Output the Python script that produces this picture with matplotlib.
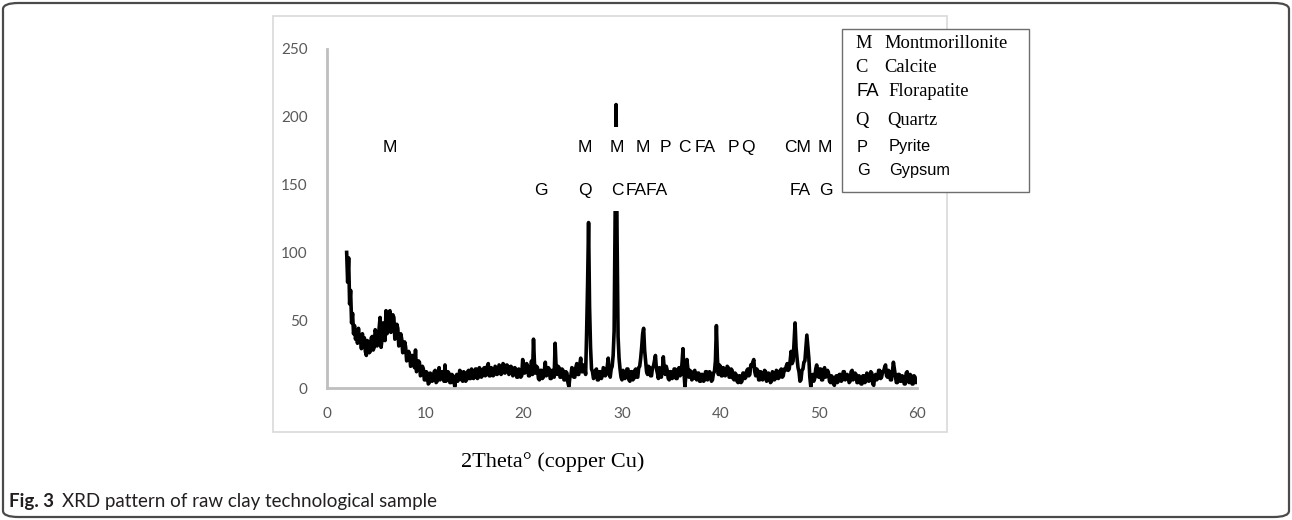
import numpy as np
import matplotlib
matplotlib.use("Agg")
import matplotlib.pyplot as plt
from matplotlib.patches import Rectangle, FancyBboxPatch

# XRD scan, 2theta from 2 to 60 deg in 0.1 deg steps
two_theta = np.round(np.arange(2.0, 60.001, 0.1), 1)

counts_02_12 = [100, 78, 96, 62, 72, 48, 55, 40, 46, 36,
                41, 33, 44, 35, 38, 29, 40, 31, 37, 27,
                24, 35, 33, 26, 27, 37, 38, 28, 30, 43,
                40, 31, 33, 44, 52, 30, 36, 48, 45, 35,
                57, 40, 42, 55, 57, 41, 44, 54, 52, 36,
                38, 47, 44, 31, 33, 40, 36, 26, 27, 34,
                30, 20, 21, 27, 25, 16, 17, 24, 21, 15,
                28, 12, 14, 20, 19, 9, 10, 16, 14, 6,
                6, 12, 11, 3, 4, 11, 10, 5, 6, 12,
                13, 4, 5, 10, 15, 6, 7, 12, 10, 5]
counts_12_22 = [17, 5, 6, 12, 11, 4, 4, 10, 9, 5,
                1, 8, 10, 5, 7, 13, 12, 6, 5, 12,
                11, 5, 6, 12, 13, 7, 7, 14, 12, 7,
                8, 14, 14, 7, 8, 15, 13, 8, 9, 14,
                15, 9, 10, 16, 18, 9, 9, 15, 14, 9,
                10, 16, 15, 10, 11, 17, 16, 10, 11, 18,
                17, 11, 12, 17, 16, 10, 11, 16, 15, 9,
                10, 15, 14, 8, 8, 14, 13, 8, 9, 21,
                17, 11, 12, 18, 16, 9, 9, 14, 20, 10,
                36, 18, 11, 16, 15, 7, 6, 13, 13, 7]
counts_22_32 = [8, 13, 19, 9, 10, 15, 14, 7, 7, 13,
                12, 8, 33, 15, 10, 16, 15, 8, 8, 14,
                13, 6, 6, 12, 11, 4, 1, 8, 9, 15,
                14, 8, 8, 15, 18, 10, 10, 17, 22, 12,
                12, 17, 16, 10, 40, 76, 122, 60, 30, 14,
                12, 7, 8, 13, 14, 6, 6, 12, 12, 7,
                9, 15, 14, 9, 10, 16, 22, 11, 8, 14,
                16, 24, 42, 130, 209, 110, 38, 22, 14, 8,
                6, 13, 12, 7, 8, 14, 14, 6, 5, 12,
                12, 6, 7, 13, 14, 8, 8, 15, 16, 22]
counts_32_42 = [30, 40, 44, 28, 20, 12, 10, 16, 15, 9,
                9, 15, 16, 20, 24, 14, 11, 7, 15, 9,
                8, 13, 23, 14, 10, 16, 13, 7, 6, 12,
                12, 7, 8, 14, 14, 7, 7, 13, 15, 9,
                10, 18, 29, 12, 1, 10, 21, 14, 8, 13,
                12, 6, 7, 12, 13, 7, 6, 11, 11, 5,
                5, 10, 10, 5, 6, 12, 12, 6, 7, 12,
                11, 5, 6, 11, 12, 20, 46, 22, 10, 17,
                16, 9, 9, 15, 14, 9, 10, 16, 15, 8,
                8, 14, 13, 7, 6, 11, 10, 5, 4, 9]
counts_42_52 = [9, 4, 5, 11, 11, 7, 8, 13, 14, 9,
                10, 17, 16, 19, 21, 12, 9, 14, 13, 6,
                6, 12, 11, 6, 7, 13, 12, 5, 6, 11,
                10, 4, 5, 12, 11, 6, 7, 13, 12, 7,
                8, 13, 14, 8, 9, 14, 13, 16, 18, 13,
                14, 20, 27, 18, 20, 34, 48, 30, 22, 15,
                12, 5, 6, 13, 14, 19, 20, 30, 39, 30,
                22, 8, 1, 9, 10, 5, 7, 14, 17, 9,
                8, 14, 14, 6, 6, 13, 15, 8, 9, 13,
                11, 5, 4, 9, 8, 3, 2, 8, 9, 4]
counts_52_60 = [5, 10, 10, 5, 6, 12, 12, 6, 7, 10,
                9, 4, 5, 12, 13, 6, 7, 11, 10, 4,
                4, 9, 8, 3, 3, 9, 9, 4, 5, 11,
                10, 5, 6, 12, 11, 3, 2, 9, 10, 6,
                7, 13, 13, 7, 8, 12, 12, 15, 17, 9,
                8, 13, 12, 6, 6, 12, 19, 14, 9, 4,
                4, 10, 10, 5, 5, 9, 8, 3, 3, 11,
                12, 5, 4, 10, 9, 3, 3, 9, 8, 4,
                5]
counts = np.array(counts_02_12 + counts_12_22 + counts_22_32 + counts_32_42
                  + counts_42_52 + counts_52_60)

# phase labels: (text, 2theta position)
top_labels = [("M", 6.4), ("M", 26.2), ("M", 29.5), ("M", 32.1), ("P", 34.4),
              ("C", 36.3), ("FA", 38.5), ("P", 41.3), ("Q", 42.8), ("CM", 47.9),
              ("M", 50.6)]
low_labels = [("G", 21.7), ("Q", 26.2), ("C", 29.5), ("FAFA", 32.5),
              ("FA", 48.1), ("G", 50.7)]
top_row_y = 177
low_row_y = 146

legend_codes = ["M", "C", "FA", "Q", "P", "G"]
legend_names = ["Montmorillonite", "Calcite", "Florapatite", "Quartz", "Pyrite", "Gypsum"]

x_ticks = [0, 10, 20, 30, 40, 50, 60]
y_ticks = [0, 50, 100, 150, 200, 250]

W, H = 1292, 520
fig = plt.figure(figsize=(W / 100, H / 100), dpi=100)


def fx(px):
    return px / W


def fy(py):
    return 1 - py / H


# outer rounded border of the figure panel
fig.add_artist(FancyBboxPatch((fx(3), fy(517)), fx(1286), 514 / H,
                              boxstyle="round,pad=0,rounding_size=0.012",
                              transform=fig.transFigure, fc="none",
                              ec="#4a4a4a", lw=1.6))
# light chart-area frame
fig.add_artist(Rectangle((fx(273), fy(432)), fx(947 - 273), (432 - 16) / H,
                         transform=fig.transFigure, fc="none", ec="#d9d9d9", lw=1.2))

ax = fig.add_axes([fx(327), fy(388), fx(917 - 327), (388 - 49) / H])
ax.plot(two_theta, counts, color="black", lw=2.6, zorder=2)
ax.set_xlim(0, 60)
ax.set_ylim(0, 250)
ax.set_xticks(x_ticks)
ax.set_yticks(y_ticks)
ax.tick_params(length=0, labelsize=11, labelcolor="#595959", pad=14)
for lab in ax.get_xticklabels() + ax.get_yticklabels():
    lab.set_family("Lato")
for side in ["top", "right"]:
    ax.spines[side].set_visible(False)
for side in ["left", "bottom"]:
    ax.spines[side].set_color("#bfbfbf")
    ax.spines[side].set_linewidth(2)

lab_font = dict(family="Liberation Sans", fontsize=12.5, ha="center", va="center")
for row_y, labels in [(top_row_y, top_labels), (low_row_y, low_labels)]:
    for txt, xpos in labels:
        if xpos == 29.5:
            # the calcite labels sit on white boxes that hide part of the peak
            ax.text(xpos, row_y, txt, zorder=2.5,
                    bbox=dict(fc="white", ec="none", pad=10), **lab_font)
        else:
            ax.text(xpos, row_y, txt, zorder=3, **lab_font)

# legend box
fig.add_artist(Rectangle((fx(842), fy(192)), fx(1029 - 842), (192 - 29) / H,
                         transform=fig.transFigure, fc="white", ec="#6e6e6e",
                         lw=1.0, zorder=5))
leg_y = [43, 68, 92, 120, 147, 171]
for i, (code, name) in enumerate(zip(legend_codes, legend_names)):
    if code in ("P", "G"):
        fam_code, fam_name, size = "Liberation Sans", "Liberation Sans", 11.8
        xc, xn = 857, 889
    elif code == "FA":
        fam_code, fam_name, size = "Liberation Sans", "Liberation Serif", 13.3
        xc, xn = 856, 888
    else:
        fam_code, fam_name, size = "Liberation Serif", "Liberation Serif", 13.3
        xc, xn = 855, 884 if code != "Q" else 887
    fig.text(fx(xc), fy(leg_y[i]), code, family=fam_code, fontsize=size,
             va="center", ha="left", zorder=6)
    fig.text(fx(xn), fy(leg_y[i]), name, family=fam_name, fontsize=size,
             va="center", ha="left", zorder=6)

fig.text(fx(553), fy(462), "2Theta\u00b0 (copper Cu)", family="Liberation Serif",
         fontsize=16, ha="center", va="center")

fig.text(fx(9), fy(501), "Fig. 3", family="Lato", fontweight="bold",
         fontsize=13.5, ha="left", va="center", color="#231f20")
fig.text(fx(62), fy(501), "XRD pattern of raw clay technological sample", family="Lato",
         fontsize=13.5, ha="left", va="center", color="#231f20")

fig.savefig("out.png", dpi=100)
